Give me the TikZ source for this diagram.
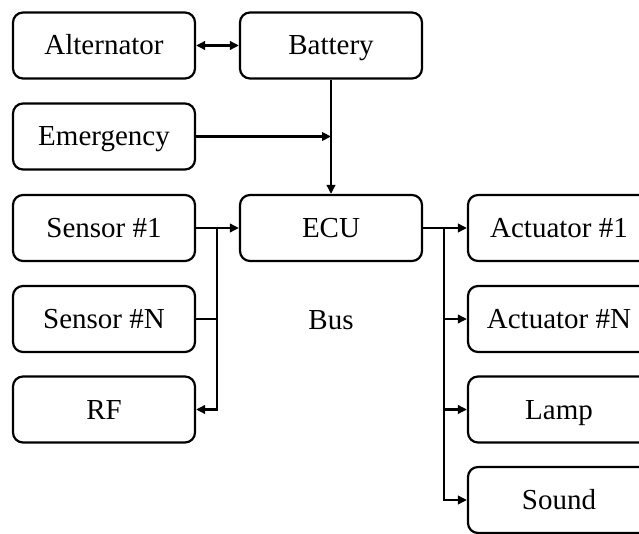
\documentclass[tikz,border=0pt]{standalone}
\usepackage{fontspec}
\setmainfont{Liberation Serif}
\usetikzlibrary{arrows.meta}
\begin{document}
\begin{tikzpicture}[x=1pt,y=-1pt,
  blk/.style={draw=black,line width=2.2pt,rounded corners=10pt,minimum width=182pt,minimum height=66pt,inner sep=0pt,text height=24pt,text depth=5pt,font=\fontsize{29}{31}\selectfont},
  conn/.style={line width=2.2pt,-{Triangle[length=9pt,width=8.5pt]}},
  plain/.style={line width=2.2pt}]
\clip (0,0) rectangle (639,534);
\useasboundingbox (0,0) rectangle (639,534);
\node[blk] (alt) at (104,45.5) {Alternator};
\node[blk] (bat) at (331,45.5) {Battery};
\node[blk] (emg) at (104,136.5) {Emergency};
\node[blk] (s1) at (104,228) {Sensor \#1};
\node[blk] (ecu) at (331,228) {ECU};
\node[blk] (a1) at (559,228) {Actuator \#1};
\node[blk] (sn) at (104,319) {Sensor \#N};
\node[font=\fontsize{29}{31}\selectfont,text height=24pt,text depth=5pt,inner sep=0pt] (bus) at (331,320) {Bus};
\node[blk] (an) at (559,319) {Actuator \#N};
\node[blk] (rf) at (104,409.5) {RF};
\node[blk] (lamp) at (559,409.5) {Lamp};
\node[blk] (snd) at (559,500) {Sound};
\coordinate (lj) at (217,228);
\coordinate (rj) at (444,228);
\coordinate (ej) at (331,136.5);
\draw[line width=2.2pt,{Triangle[length=9pt,width=8.5pt]}-{Triangle[length=9pt,width=8.5pt]}] (alt) -- (bat);
\draw[conn] (bat) -- (ecu);
\draw[conn] (emg.east) -- (ej);
\draw[conn] (s1.east) -- (ecu.west);
\draw[plain] (sn.east) -- (sn.east -| lj);
\draw[conn] (lj) |- (rf.east);
\draw[conn] (ecu.east) -- (a1.west);
\draw[conn] (rj) |- (an.west);
\draw[conn] (rj) |- (lamp.west);
\draw[conn] (rj) |- (snd.west);
\end{tikzpicture}
\end{document}
